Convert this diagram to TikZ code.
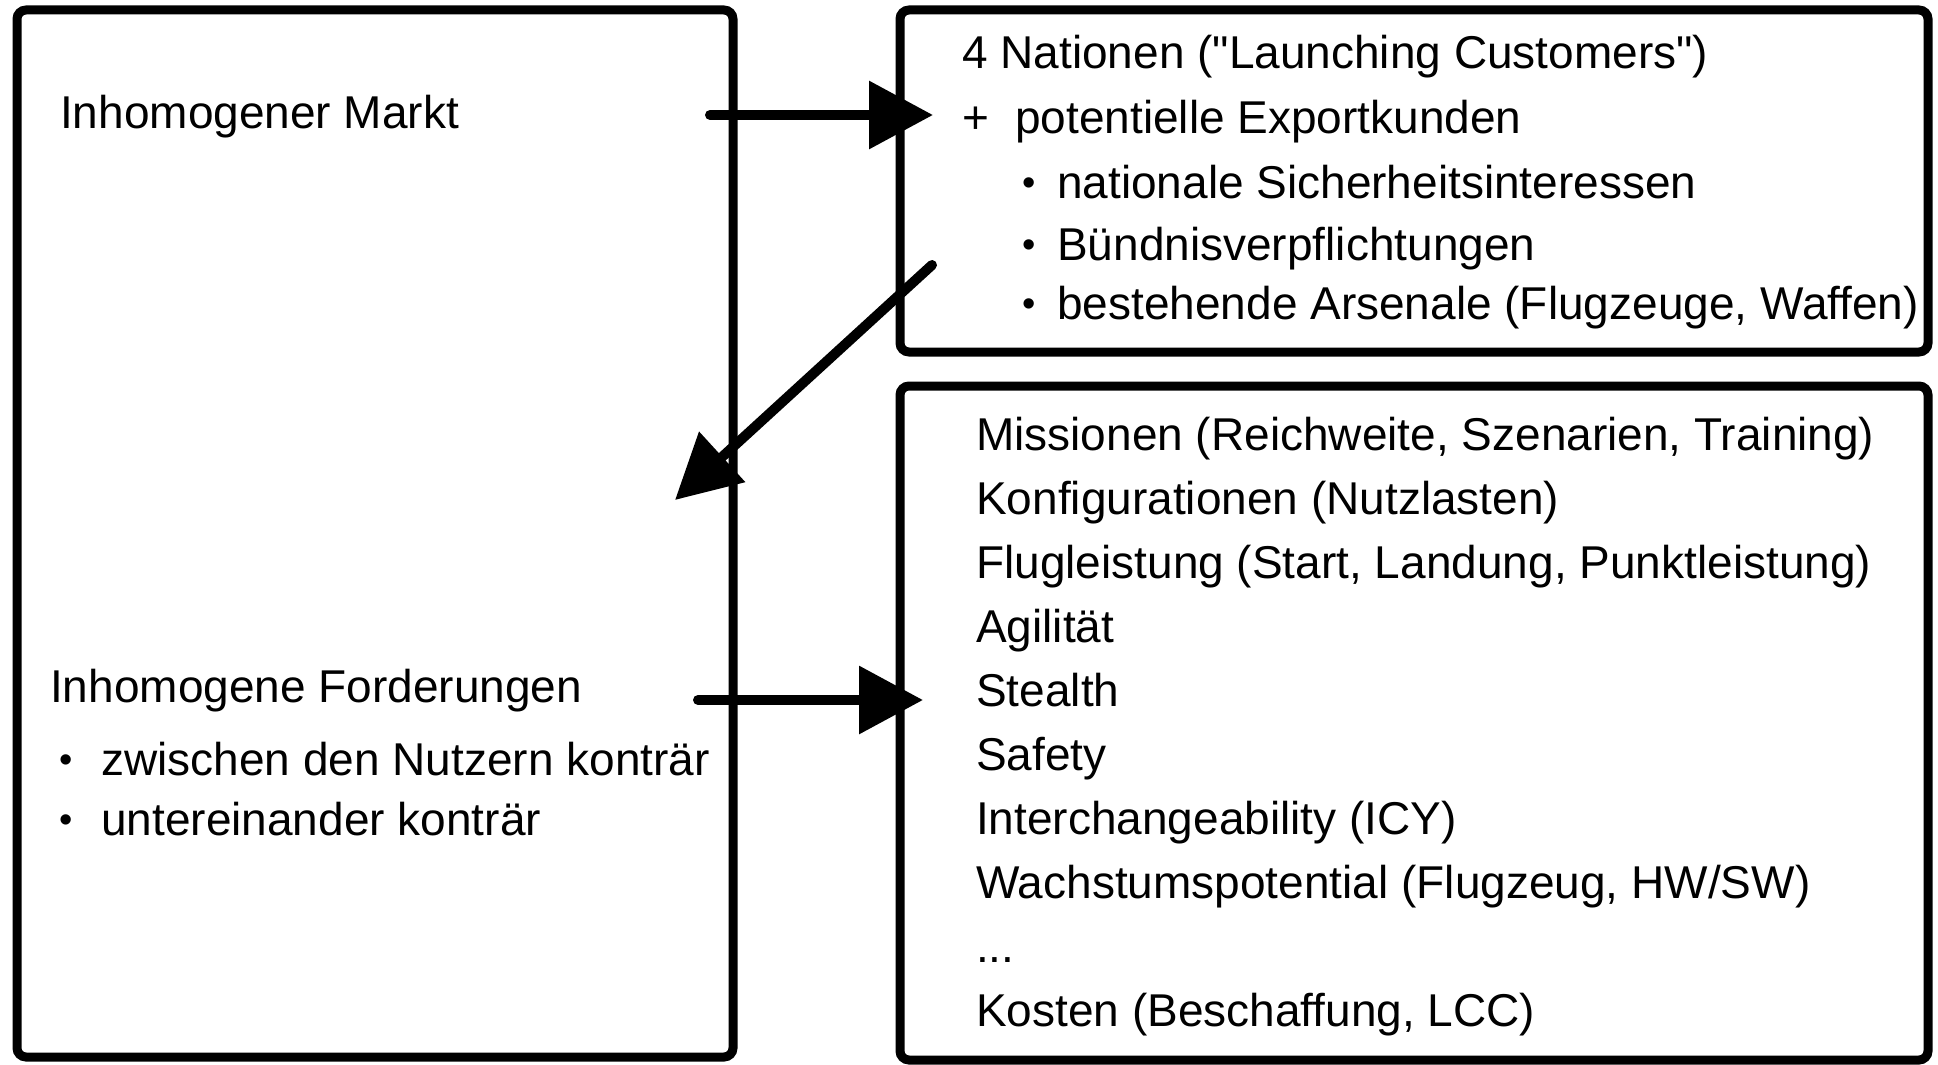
\documentclass[tikz,border=0pt]{standalone}
\usepackage{fontspec}
\newfontfamily\arialfont{Liberation Sans}
\usetikzlibrary{arrows.meta}
\newcommand{\smallbul}{{\fontsize{38}{38}\selectfont\raisebox{3pt}{•}}}
\begin{document}
\begin{tikzpicture}[x=1pt,y=-1pt,
  box/.style={draw, line width=9pt, rounded corners=9pt, inner sep=0pt},
  txt/.style={anchor=base west, inner sep=0pt, font=\arialfont\fontsize{46}{55}\selectfont},
  conn/.style={line width=10pt, line cap=round, -{Triangle[length=64pt,width=66pt]}}]
\fill[white] (0,0) rectangle (1938,1065);
\useasboundingbox (0,0) rectangle (1938,1065);
% boxes
\node[box, minimum width=716pt, minimum height=1047pt] (L) at (375,533.5) {};
\node[box, minimum width=1028pt, minimum height=342pt] (TR) at (1414,181) {};
\node[box, minimum width=1028pt, minimum height=674pt] (BR) at (1414,723) {};
% left texts
\node[txt] (markt) at (60,128) {Inhomogener Markt};
\node[txt] (ford) at (50,702) {Inhomogene Forderungen};
\node[txt] (b1) at (59,775) {\smallbul};
\node[txt] (l1) at (101,775) {zwischen den Nutzern konträr};
\node[txt] (b2) at (59,835) {\smallbul};
\node[txt] (l2) at (101,835) {untereinander konträr};
% top right texts
\node[txt] (n1) at (962,68) {4 Nationen ("Launching Customers")};
\node[txt] (plus) at (962,133) {+};
\node[txt] (n2) at (1015,133) {potentielle Exportkunden};
\node[txt] (tb1) at (1022,198) {\smallbul};
\node[txt] (n3) at (1057,198) {nationale Sicherheitsinteressen};
\node[txt] (tb2) at (1022,260) {\smallbul};
\node[txt] (n4) at (1057,260) {Bündnisverpflichtungen};
\node[txt] (tb3) at (1022,319) {\smallbul};
\node[txt] (n5) at (1057,319) {bestehende Arsenale (Flugzeuge, Waffen)};
% bottom right texts
\node[txt] (r1) at (976,450) {Missionen (Reichweite, Szenarien, Training)};
\node[txt] (r2) at (976,514) {Konfigurationen (Nutzlasten)};
\node[txt] (r3) at (976,578) {Flugleistung (Start, Landung, Punktleistung)};
\node[txt] (r4) at (976,642) {Agilität};
\node[txt] (r5) at (976,706) {Stealth};
\node[txt] (r6) at (976,770) {Safety};
\node[txt] (r7) at (976,834) {Interchangeability (ICY)};
\node[txt] (r8) at (976,898) {Wachstumspotential (Flugzeug, HW/SW)};
\node[txt] (r9) at (976,962) {...};
\node[txt] (r10) at (976,1026) {Kosten (Beschaffung, LCC)};
% connectors
\coordinate (a1s) at (710,115);
\coordinate (a1e) at (933,115);
\coordinate (a2s) at (932,265);
\coordinate (a2e) at (675,500);
\coordinate (a3s) at (698,700);
\coordinate (a3e) at (923,700);
\draw[conn] (a1s) -- (a1e);
\draw[conn] (a2s) -- (a2e);
\draw[conn] (a3s) -- (a3e);
\end{tikzpicture}
\end{document}
